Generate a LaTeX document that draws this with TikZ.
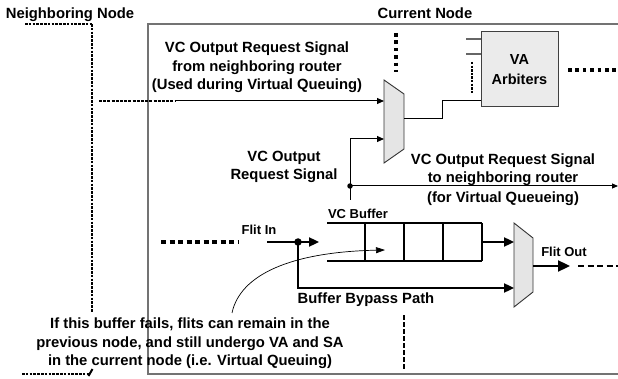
\documentclass[tikz,border=0pt]{standalone}
\usepackage{fontspec}
\setmainfont{Liberation Sans}
\usetikzlibrary{arrows.meta}
\tikzset{
  lbl/.style={anchor=base, inner sep=0pt, font=\bfseries\fontsize{14.8}{18}\selectfont},
  slbl/.style={anchor=base, inner sep=0pt, font=\bfseries\fontsize{13}{16}\selectfont},
  frame/.style={draw=black!55, line width=1.3pt},
  muxshape/.style={draw=black!80, fill=black!10, line width=0.9pt},
  thinsig/.style={draw=black, line width=1pt},
  thicksig/.style={draw=black, line width=2.3pt},
  bufline/.style={draw=black, line width=1.7pt},
  smallarr/.style={-{Triangle[length=7pt,width=6pt]}},
  bigarr/.style={-{Triangle[length=10pt,width=9pt]}},
  finedash/.style={draw=black, line width=2.6pt, dash pattern=on 2.6pt off 1.2pt},
  bigdots/.style={draw=black, line width=3.6pt, dash pattern=on 3.6pt off 3.8pt},
  thickdash/.style={draw=black, line width=3.2pt, dash pattern=on 5.2pt off 3.3pt},
  meddash/.style={draw=black, line width=2.6pt, dash pattern=on 6pt off 3.5pt},
  junction/.style={circle, fill=black, inner sep=0pt, minimum size=6pt},
}
\begin{document}
\begin{tikzpicture}[x=1pt,y=-1pt]
\useasboundingbox (0,0) rectangle (618,379);

% current node frame
\draw[frame] (618,24) -- (148,24) -- (148,374) -- (618,374);

% neighboring node boundary
\coordinate (nbA) at (25,24);
\coordinate (nbB) at (92,24);
\coordinate (nbC) at (92,312);
\draw[finedash, line width=2pt] (nbA) -- (nbB);
\draw[finedash] (nbB) -- (nbC);
\coordinate (nbD) at (22,374);
\coordinate (nbE) at (89,374);
\draw[finedash, line width=2.2pt] (nbD) -- (nbE);
\draw[black, line width=2pt] (88.5,376) -- (92.5,369);

% titles
\node[lbl] (nn) at (70,18.5) {Neighboring Node};
\node[lbl] (cn) at (425,18.5) {Current Node};

% top-left text
\node[lbl] (t1a) at (257,53) {VC Output Request Signal};
\node[lbl] (t1b) at (257,72) {from neighboring router};
\node[lbl] (t1c) at (257,90) {(Used during Virtual Queuing)};

% left middle text
\node[lbl] (t2a) at (284,162) {VC Output};
\node[lbl] (t2b) at (284,180) {Request Signal};

% right middle text
\node[lbl] (t3a) at (503,165) {VC Output Request Signal};
\node[lbl] (t3b) at (503,183) {to neighboring router};
\node[lbl] (t3c) at (503,203) {(for Virtual Queueing)};

% bottom text
\node[lbl] (t4a) at (190,328) {If this buffer fails, flits can remain in the};
\node[lbl] (t4b) at (190,347) {previous node, and still undergo VA and SA};
\node[lbl] (t4c) at (190,365) {in the current node (i.e. Virtual Queuing)};

% mux 1
\draw[muxshape] (384,80) -- (404,94) -- (404,149) -- (384,163) -- cycle;
\coordinate (m1in1) at (384,100);
\coordinate (m1in2) at (384,139);
\coordinate (m1out) at (404,119);

% mux 2
\draw[muxshape] (514,223) -- (533,238) -- (533,292) -- (514,307) -- cycle;
\coordinate (m2in1) at (514,242);
\coordinate (m2in2) at (514,288);
\coordinate (m2out) at (533,266);

% VA arbiters
\node[draw=black!75, fill=black!8, line width=1pt, minimum width=77pt, minimum height=75pt,
      inner sep=0pt, align=center, font=\bfseries\fontsize{14.5}{20}\selectfont] (va) at (519.5,69.5) {VA\\Arbiters};
\coordinate (vaS1) at (466,39);
\coordinate (vaS2) at (466,54);
\draw[black!60, line width=1.1pt] (vaS1) -- (vaS1 -| va.west);
\draw[black!60, line width=1.1pt] (vaS2) -- (vaS2 -| va.west);
\coordinate (vaD1) at (472,62);
\coordinate (vaD2) at (472,94);
\draw[black, line width=2pt, dash pattern=on 2.4pt off 1.2pt] (vaD1) -- (vaD2);
\coordinate (vaR1) at (568,70);
\coordinate (vaR2) at (618,70);
\draw[bigdots] (vaR1) -- (vaR2);

% dots above mux 1
\coordinate (md1) at (396,33);
\coordinate (md2) at (396,72);
\draw[bigdots] (md1) -- (md2);

% signal from neighboring router
\coordinate (ns0) at (99,101);
\coordinate (ns1) at (175,101);
\draw[black, line width=1.9pt, dash pattern=on 3pt off 1.2pt] (ns0) -- (ns1);
\draw[thinsig, smallarr] (ns1) -- (m1in1 |- ns1);

% mux 1 output to VA
\coordinate (mo1) at (442,119);
\coordinate (mo2) at (442,101);
\draw[thinsig] (m1out) -- (mo1) -- (mo2) -- (mo2 -| va.west);

% VC output request signal
\coordinate (rq0) at (350,200);
\coordinate (rq1) at (350,139);
\node[junction, minimum size=5.5pt] (rqj) at (350,186) {};
\coordinate (rqEnd) at (618,186);
\draw[thinsig, smallarr] (rq0) -- (rq1) -- (m1in2);
\draw[thinsig, -{Triangle[length=6pt,width=5pt]}] (rqj.center) -- (rqEnd);

% flit in
\coordinate (fi0) at (161,242);
\coordinate (fi1) at (238,242);
\draw[thickdash] (fi0) -- (fi1);
\node[slbl] (flitin) at (259,235) {Flit In};
\coordinate (fi2) at (267,242);
\node[junction, minimum size=7.5pt] (fij) at (298,242) {};
\coordinate (fi3) at (319,242);
\draw[thicksig] (fi2) -- (fij.center);
\draw[thicksig, bigarr] (fij.center) -- (fi3);

% VC buffer
\node[slbl] (vcb) at (358,219) {VC Buffer};
\draw[bufline] (327,223) -- (482,223);
\draw[bufline] (327,261) -- (482,261);
\foreach \xx in {365,404,443,482} \draw[bufline] (\xx,223) -- (\xx,261);
\coordinate (bufout) at (482,242);
\draw[thicksig, bigarr] (bufout) -- (m2in1);

% bypass
\coordinate (bp1) at (298,288);
\draw[thicksig, bigarr] (fij.center) -- (bp1) -- (m2in2);
\node[lbl] (bpl) at (366,303) {Buffer Bypass Path};

% flit out
\node[slbl] (flitout) at (564,257) {Flit Out};
\coordinate (fo1) at (570,266);
\draw[thicksig, -{Triangle[length=12pt,width=11pt]}] (m2out) -- (fo1);
\coordinate (fo2) at (578,266);
\coordinate (fo3) at (618,266);
\draw[meddash] (fo2) -- (fo3);

% dashed vertical below
\coordinate (dv1) at (404,315);
\coordinate (dv2) at (404,371);
\draw[black, line width=2.6pt, dash pattern=on 4.5pt off 2.5pt] (dv1) -- (dv2);

% annotation curve
\coordinate (cv0) at (232,313);
\coordinate (cv1) at (385,250);
\draw[black, line width=0.7pt, -{Triangle[length=9pt,width=6pt]}] (cv0) .. controls (240,275) and (290,252) .. (cv1);
\end{tikzpicture}
\end{document}
